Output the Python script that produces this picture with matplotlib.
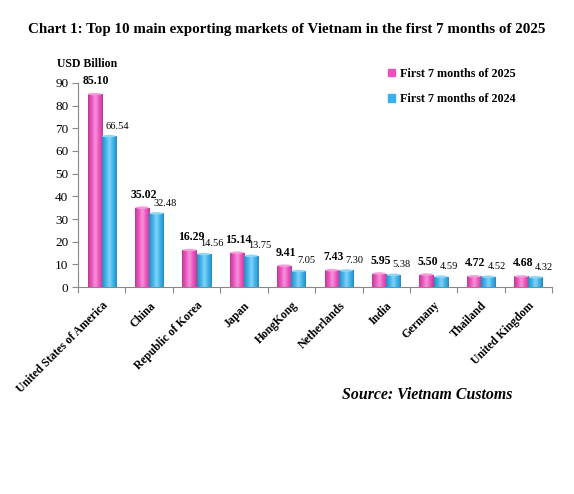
import numpy as np
import matplotlib
matplotlib.use('Agg')
import matplotlib.pyplot as plt

plt.rcParams['font.family'] = 'Liberation Serif'

# Data (USD billion)
markets = ['United States of America', 'China', 'Republic of Korea', 'Japan', 'HongKong',
           'Netherlands', 'India', 'Germany', 'Thailand', 'United Kingdom']
val_2025 = [85.10, 35.02, 16.29, 15.14, 9.41, 7.43, 5.95, 5.50, 4.72, 4.68]
val_2024 = [66.54, 32.48, 14.56, 13.75, 7.05, 7.30, 5.38, 4.59, 4.52, 4.32]
yticks = [0, 10, 20, 30, 40, 50, 60, 70, 80, 90]

pink = '#EE4FBE'
blue = '#38B2EE'


def cylinder_bars(ax, xs, heights, width, base_color):
    bars = ax.bar(xs, heights, width, color=base_color, edgecolor='none', zorder=2)
    rgb = np.array(matplotlib.colors.to_rgb(base_color))
    t = np.linspace(0, 1, 64)
    shade = 1 - 0.9 * (1 - np.sin(np.pi * t)) ** 2
    light = np.clip(rgb + (1 - rgb) * 0.35 * np.sin(np.pi * t)[:, None] ** 6, 0, 1)
    grad = light * (0.72 + 0.28 * shade)[:, None]
    for b in bars:
        x0, w, h = b.get_x(), b.get_width(), b.get_height()
        im = ax.imshow(grad[None, :, :], extent=(x0, x0 + w, 0, h), aspect='auto', zorder=3)
        im.set_clip_path(b)
        # elliptical top cap
        ax.add_patch(matplotlib.patches.Ellipse((x0 + w / 2, h), w * 0.95, 1.1,
                                                facecolor=np.clip(rgb + (1 - rgb) * 0.45, 0, 1),
                                                edgecolor='none', zorder=4))
    return bars


fig = plt.figure(figsize=(5.74, 4.94), dpi=100)
ax = fig.add_axes([0.136, 0.419, 0.826, 0.413])

x = np.arange(len(markets))
w = 0.3
cylinder_bars(ax, x - w / 2, val_2025, w, pink)
cylinder_bars(ax, x + w / 2, val_2024, w, blue)

for i in range(len(markets)):
    ax.annotate('%.2f' % val_2025[i], (x[i] - w / 2, val_2025[i]), xytext=(1, 5),
                textcoords='offset points', ha='center', va='bottom',
                fontsize=8.5, fontweight='bold')
    ax.annotate('%.2f' % val_2024[i], (x[i] + w / 2, val_2024[i]), xytext=(6, 4),
                textcoords='offset points', ha='center', va='bottom', fontsize=7.5)

ax.set_xlim(-0.5, len(markets) - 0.5)
ax.set_ylim(0, 90)
ax.set_yticks(yticks)
ax.set_yticklabels([str(v) for v in yticks], fontsize=9.5)
ax.set_xticks(np.arange(len(markets) + 1) - 0.5, minor=False)
ax.set_xticklabels([])
ax.set_xticks(x, minor=True)
ax.set_xticklabels(markets, minor=True, rotation=45, ha='right', rotation_mode='anchor',
                   fontsize=8.4, fontweight='bold')
ax.tick_params(axis='x', which='minor', length=0, pad=9)
ax.tick_params(axis='x', which='major', length=4, direction='out', color='#888888')
ax.tick_params(axis='y', length=4, color='#888888', pad=3)
for s in ['top', 'right']:
    ax.spines[s].set_visible(False)
for s in ['left', 'bottom']:
    ax.spines[s].set_color('#888888')

fig.text(0.5, 0.94, 'Chart 1: Top 10 main exporting markets of Vietnam in the first 7 months of 2025',
         ha='center', va='center', fontsize=10.8, fontweight='bold')
fig.text(0.1, 0.871, 'USD Billion', ha='left', va='center', fontsize=8.5, fontweight='bold')

handles = [matplotlib.patches.Patch(color=pink), matplotlib.patches.Patch(color=blue)]
leg = fig.legend(handles, ['First 7 months of 2025', 'First 7 months of 2024'],
                 loc='upper left', bbox_to_anchor=(0.657, 0.885), frameon=False,
                 prop={'weight': 'bold', 'size': 8.7}, handlelength=0.6, handleheight=0.6,
                 handletextpad=0.4, labelspacing=1.1)

fig.text(0.892, 0.2, 'Source: Vietnam Customs', ha='right', va='center', fontsize=11.4,
         fontweight='bold', style='italic')

fig.savefig('out.png', dpi=100)
